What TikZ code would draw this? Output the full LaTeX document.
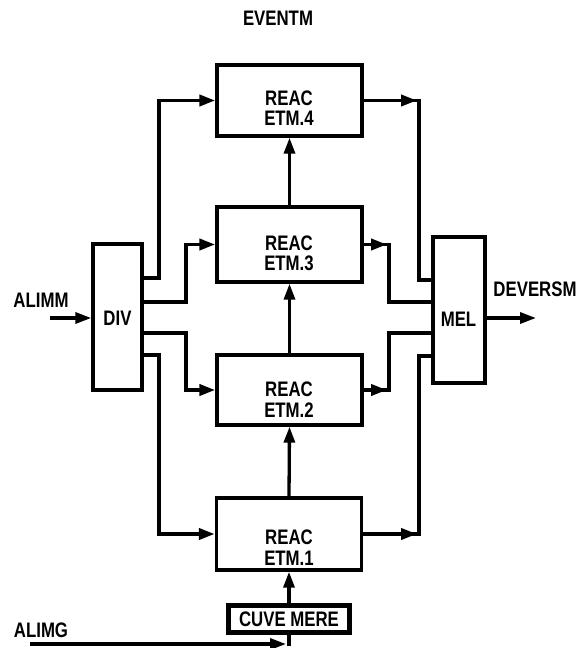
\documentclass[tikz,border=0pt]{standalone}
\usepackage{fontspec}
\newfontfamily\dfont[FakeStretch=0.8]{Liberation Sans Bold}
\usetikzlibrary{arrows.meta}
\begin{document}
\begin{tikzpicture}[x=1pt,y=-1pt,
  box/.style={draw, line width=3.4pt, inner sep=0pt},
  conn/.style={line width=3.8pt},
  arr/.style={-{Triangle[length=16pt,width=11pt]}},
  txt/.style={font=\dfont\fontsize{21}{20.5}\selectfont, align=center, inner sep=0pt},
  line join=miter]
\useasboundingbox (0,0) rectangle (579,648);

% reactor boxes
\node[box, minimum width=145pt, minimum height=71pt] (r4) at (289.5,100.5) {};
\node[box, minimum width=145pt, minimum height=75pt] (r3) at (289.5,244.5) {};
\node[box, minimum width=145pt, minimum height=70pt] (r2) at (289.5,390) {};
\node[box, minimum width=145pt, minimum height=72pt] (r1) at (289,534) {};
\node[txt] (r4t) at (289,108) {REAC\\ETM.4};
\node[txt] (r3t) at (289,253.5) {REAC\\ETM.3};
\node[txt] (r2t) at (289,399.5) {REAC\\ETM.2};
\node[txt] (r1t) at (289,547.5) {REAC\\ETM.1};

% divider and mixer
\node[box, minimum width=49pt, minimum height=146pt] (div) at (117.5,317) {};
\node[txt] (divt) at (117.5,318.5) {DIV};
\node[box, minimum width=52pt, minimum height=146pt] (mel) at (459,310) {};
\node[txt] (melt) at (458.5,319.5) {MEL};

% mother tank
\node[box, minimum width=122pt, minimum height=28pt, txt] (cuve) at (289,619) {CUVE MERE};
\draw[line width=1.2pt] ([shift={(4,4)}]cuve.north west) rectangle ([shift={(-4,-4)}]cuve.south east);

% labels
\node[txt] (eventm) at (278,18) {EVENTM};
\node[txt] (alimm) at (41,300) {ALIMM};
\node[txt] (deversm) at (535,289) {DEVERSM};
\node[txt] (alimg) at (41,630) {ALIMG};

% free ends
\coordinate (ainA) at (50,318);
\coordinate (aoutD) at (536,318);
\coordinate (ginA) at (30,644);
\coordinate (gj) at (286,644);

% inputs / outputs
\draw[conn,line width=3.3pt,arr] (ainA) -- (div.west |- ainA);
\draw[conn,line width=3.3pt,arr] (mel.east |- aoutD) -- (aoutD);
\draw[conn,line width=3.3pt,arr] (ginA) -- (gj);
\draw[conn,line width=3.3pt,line cap=rect] (cuve.south) -- (cuve.south |- gj);

% DIV to reactors
\draw[conn,arr] (div.east |- 0,278) -- (159,278) |- (r4.west);
\draw[conn,arr] (div.east |- 0,302) -- (186,302) |- (r3.west);
\draw[conn,arr] (div.east |- 0,333) -- (186,333) |- (r2.west);
\draw[conn,arr] (div.east |- 0,355) -- (159,355) |- (r1.west);

% reactors to MEL
\draw[conn] (r4.east) -| (419,280) -- (mel.west |- 0,280);
\draw[conn,arr] (r4.east) -- (417,100.5);
\draw[conn] (r3.east) -| (389,302) -- (mel.west |- 0,302);
\draw[conn,arr] (r3.east) -- (387,244.5);
\draw[conn] (r2.east) -| (389,333) -- (mel.west |- 0,333);
\draw[conn,arr] (r2.east) -- (387,390);
\draw[conn] (r1.east) -| (419,356) -- (mel.west |- 0,356);
\draw[conn,arr] (r1.east) -- (417,534);

% series connection
\draw[conn,line width=3.3pt,arr] (cuve.north) -- (r1.south);
\draw[conn,line width=3.3pt,arr] (r1.north) -- (r2.south);
\draw[conn,line width=3.3pt,arr] (r2.north) -- (r3.south);
\draw[conn,line width=3.3pt,arr] (r3.north) -- (r4.south);
\end{tikzpicture}
\end{document}
